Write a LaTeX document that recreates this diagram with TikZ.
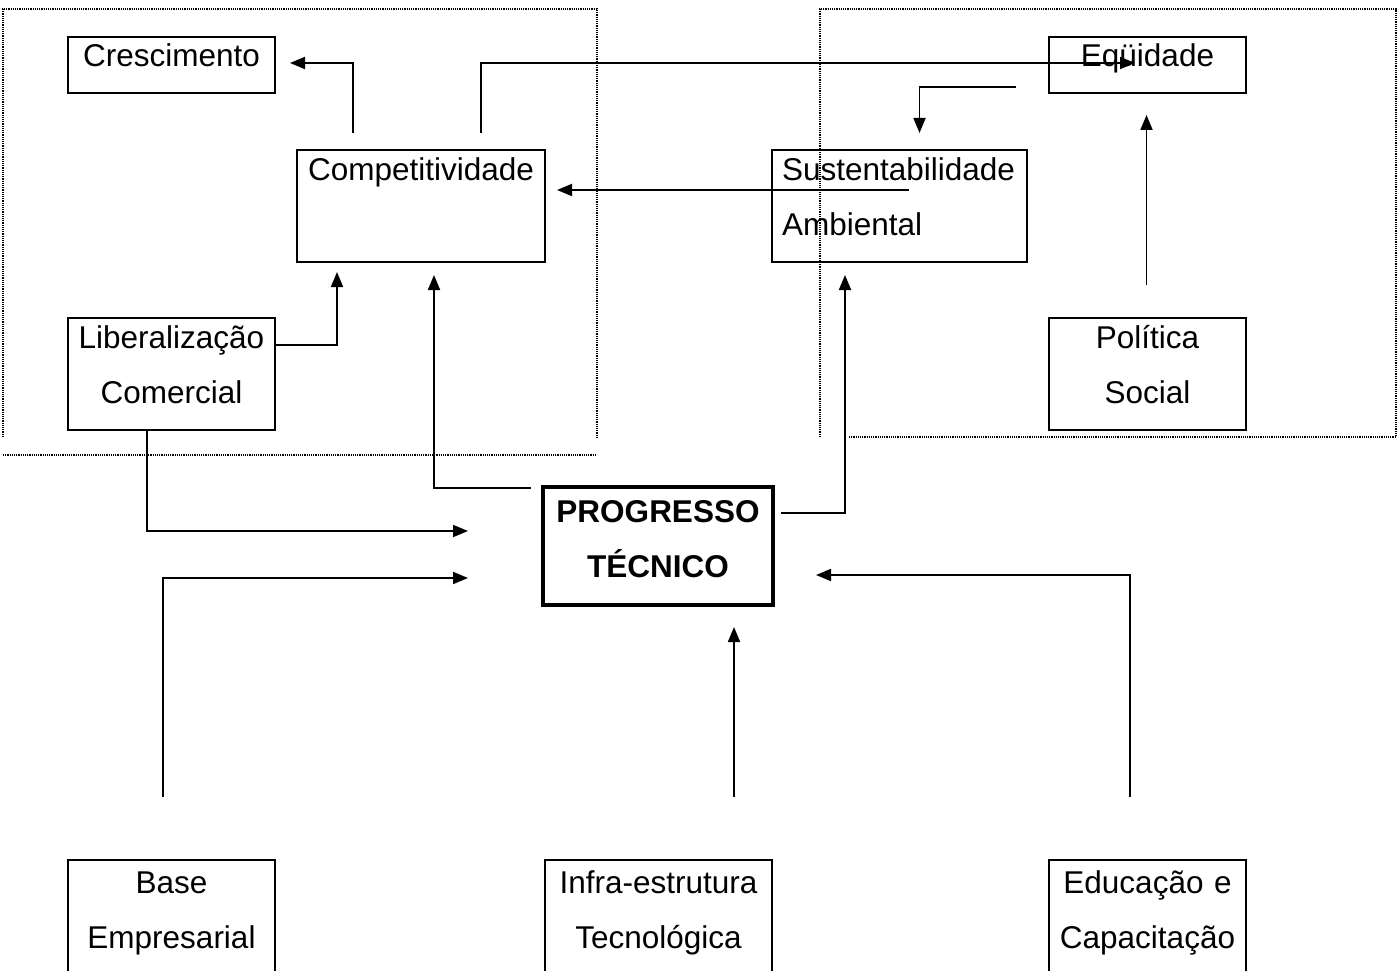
\documentclass[tikz,border=0pt]{standalone}
\usepackage{fontspec}
\setmainfont{Liberation Sans}
\usetikzlibrary{calc, arrows.meta}

\begin{document}
\begin{tikzpicture}[x=1pt, y=-1pt, line width=1.8pt, >={Triangle[length=15pt, width=12pt]},
    box/.style={draw, line width=2pt, anchor=north west, outer sep=0pt, inner xsep=0pt, inner ysep=0pt,
        align=center, font=\fontsize{31.5}{55}\selectfont},
    onebox/.style={box, text height=30pt, text depth=26pt},
    twobox/.style={box, text height=30pt, text depth=82pt},
    frame/.style={densely dotted, line width=1.2pt}]
    \useasboundingbox (0,0) rectangle (1398,971);
    \clip (0,0) rectangle (1398,971);

    % dotted frames
    \draw[frame] (3,437) -- (3,9) -- (597,9) -- (597,437);
    \draw[frame] (3,455) -- (597,455);
    \draw[frame] (820,437) -- (820,9) -- (1396,9) -- (1396,437) -- (848,437);

    % boxes
    \node[onebox, text width=207pt] (cresc) at (68,37) {Crescimento};
    \node[onebox, text width=197pt] (equi) at (1049,37) {Eqüidade};
    \node[twobox, text width=248pt] (comp) at (297,150) {Competitividade};
    \node[twobox, align=left, inner xsep=10pt, text width=235pt] (sust) at (772,150) {Sustentabilidade\\Ambiental};
    \node[twobox, text width=207pt] (lib) at (68,318) {Liberalização\\Comercial};
    \node[twobox, text width=197pt] (pol) at (1049,318) {Política\\Social};
    \node[box, line width=4.5pt, text width=230pt, text height=35pt, text depth=83pt,
        font=\fontsize{31.5}{55}\selectfont\bfseries] (prog) at (543,487) {PROGRESSO\\TÉCNICO};
    \node[box, text width=207pt, text height=33pt, text depth=110pt] (base) at (68,860) {Base\\Empresarial};
    \node[box, text width=227pt, text height=33pt, text depth=110pt] (infra) at (545,860) {Infra-estrutura\\Tecnológica};
    \node[box, text width=197pt, text height=33pt, text depth=110pt] (educ) at (1049,860) {Educação e\\Capacitação};

    % links
    \draw[->] ($(comp.north)+(-68,-17)$) |- ($(cresc.east)+(15,-2)$);
    \draw[->] ($(comp.north)+(60,-17)$) |- ($(equi.west)+(86,-2)$);
    \draw[->] ($(sust.north west)+(137,40)$) -- ($(comp.north east)+(12,40)$);
    \draw[->] ($(equi.south west)+(-33,-6)$) -| ($(sust.north)+(20,-17)$);
    \draw[->] ($(pol.north)+(-1,-33)$) -- ($(equi.south)+(-1,22)$);
    \draw[->] ($(lib.north east)+(0,27)$) -| ($(comp.south west)+(40,10)$);
    \draw[->] ($(prog.north west)+(-12,1)$) -| ($(comp.south)+(13,13)$);
    \draw[->] ($(prog.north east)+(8,26)$) -| ($(sust.south west)+(73,13)$);
    \draw[->] ($(lib.south)+(-24.5,0)$) |- ($(prog.north west)+(-75,44)$);
    \draw[->] ($(base.north)+(-8.5,-63)$) |- ($(prog.north west)+(-75,91)$);
    \draw[->] ($(infra.north)+(75.5,-63)$) -- ($(prog.south)+(76,22)$);
    \draw[->] ($(educ.north)+(-17.5,-63)$) |- ($(prog.east)+(43,29)$);
\end{tikzpicture}
\end{document}
